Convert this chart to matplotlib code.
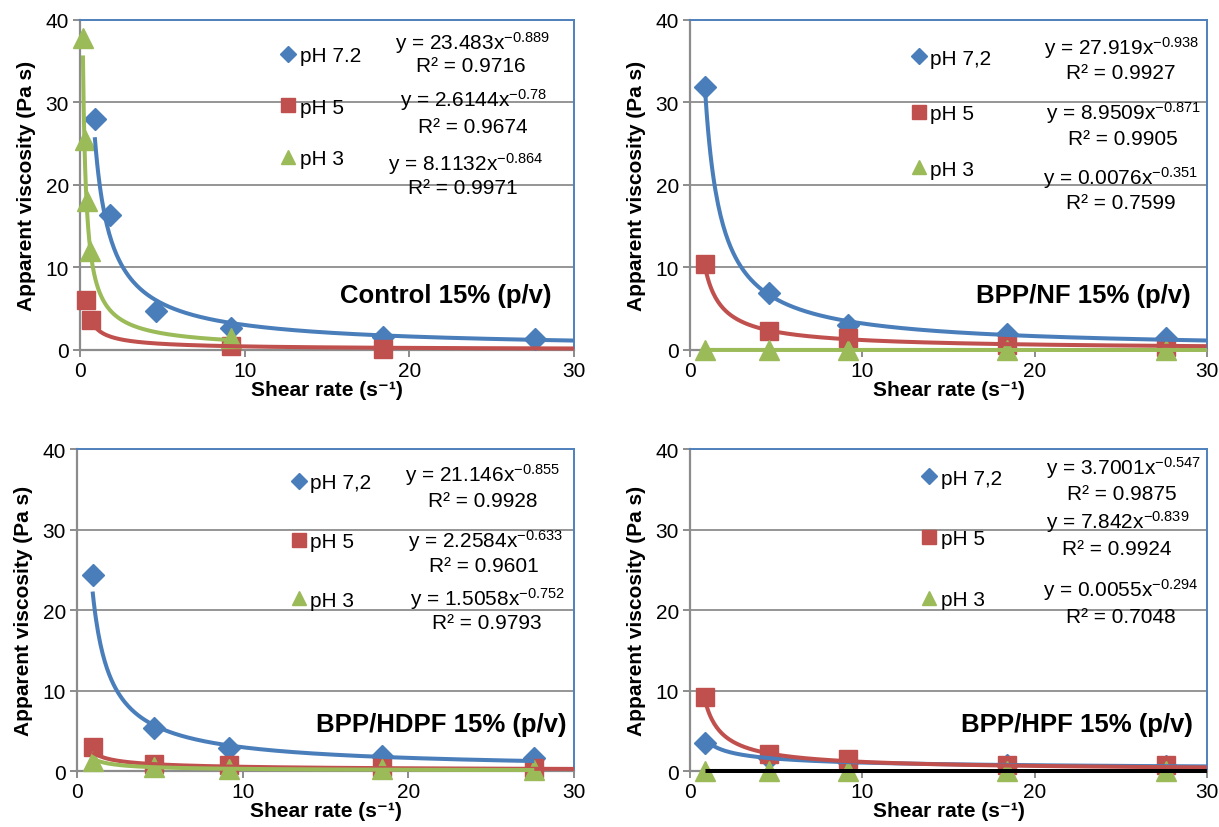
import numpy as np
import matplotlib
matplotlib.use("Agg")
import matplotlib.pyplot as plt

plt.rcParams['font.family'] = ['Liberation Sans', 'DejaVu Sans']
plt.rcParams['mathtext.fontset'] = 'custom'
plt.rcParams['mathtext.rm'] = 'Liberation Sans'
plt.rcParams['mathtext.bf'] = 'Liberation Sans:bold'
plt.rcParams['mathtext.default'] = 'regular'

# ---------------- data ----------------
series_labels_tl = ["pH 7.2", "pH 5", "pH 3"]
series_labels = ["pH 7,2", "pH 5", "pH 3"]
panel_titles = ["Control 15% (p/v)", "BPP/NF 15% (p/v)", "BPP/HDPF 15% (p/v)", "BPP/HPF 15% (p/v)"]

# Control 15%
ctrl_x72 = [0.9, 1.8, 4.6, 9.2, 18.4, 27.6]
ctrl_y72 = [28.0, 16.3, 4.7, 2.7, 1.6, 1.3]
ctrl_x5 = [0.35, 0.64, 9.2, 18.4]
ctrl_y5 = [6.0, 3.6, 0.5, 0.12]
ctrl_x3 = [0.2, 0.3, 0.4, 0.6, 9.2]
ctrl_y3 = [37.8, 25.4, 18.0, 12.0, 1.4]

# BPP/NF 15%
nf_x = [0.9, 4.6, 9.2, 18.4, 27.6]
nf_y72 = [31.85, 6.85, 3.0, 1.9, 1.5]
nf_y5 = [10.4, 2.3, 1.4, 0.6, 0.4]
nf_y3 = [0.008, 0.004, 0.003, 0.003, 0.002]

# BPP/HDPF 15%
hdpf_x = [0.94, 4.64, 9.2, 18.4, 27.6]
hdpf_y72 = [24.4, 5.3, 2.9, 1.85, 1.6]
hdpf_y5 = [3.0, 0.9, 0.7, 0.5, 0.4]
hdpf_y3 = [1.3, 0.45, 0.3, 0.2, 0.15]

# BPP/HPF 15%
hpf_x = [0.9, 4.6, 9.2, 18.4, 27.6]
hpf_y72 = [3.5, 1.6, 1.1, 0.8, 0.65]
hpf_y5 = [9.2, 2.1, 1.5, 0.8, 0.7]
hpf_y3 = [0.0055, 0.003, 0.003, 0.002, 0.002]

# power-law trendlines: (a, b, x_start, x_end), R^2
ctrl_fits = [(23.483, -0.889, 0.9, 30), (2.6144, -0.78, 0.64, 30), (8.1132, -0.864, 0.18, 9.2)]
ctrl_r2 = ["0.9716", "0.9674", "0.9971"]
nf_fits = [(27.919, -0.938, 0.9, 30), (8.9509, -0.871, 0.9, 30), (0.0076, -0.351, 0.9, 30)]
nf_r2 = ["0.9927", "0.9905", "0.7599"]
hdpf_fits = [(21.146, -0.855, 0.94, 27.6), (2.2584, -0.633, 0.94, 30), (1.5058, -0.752, 0.94, 27.6)]
hdpf_r2 = ["0.9928", "0.9601", "0.9793"]
hpf_fits = [(3.7001, -0.547, 0.9, 30), (7.842, -0.839, 0.9, 30), (0.0055, -0.294, 0.9, 30)]
hpf_r2 = ["0.9875", "0.9924", "0.7048"]
coef_txt = {
    0: [("23.483", "-0.889"), ("2.6144", "-0.78"), ("8.1132", "-0.864")],
    1: [("27.919", "-0.938"), ("8.9509", "-0.871"), ("0.0076", "-0.351")],
    2: [("21.146", "-0.855"), ("2.2584", "-0.633"), ("1.5058", "-0.752")],
    3: [("3.7001", "-0.547"), ("7.842", "-0.839"), ("0.0055", "-0.294")],
}

x_ticks = [0, 10, 20, 30]
y_ticks = [0, 10, 20, 30, 40]

# ---------------- style ----------------
BLUE = "#4A7EBB"
RED = "#C0504D"
GREEN = "#9BBB59"
GRID = "#8C8C8C"
FRAME = "#4F81BD"
colors = [BLUE, RED, GREEN]
markers = ["D", "s", "^"]
msizes = [11, 13, 14]

fig = plt.figure(figsize=(12.19, 8.28), dpi=100)
axes_rects = [
    [0.0656, 0.5761, 0.4053, 0.3986],
    [0.5660, 0.5761, 0.4241, 0.3986],
    [0.0632, 0.0676, 0.4077, 0.3889],
    [0.5660, 0.0676, 0.4241, 0.3889],
]

panels = [
    dict(xs=[ctrl_x72, ctrl_x5, ctrl_x3], ys=[ctrl_y72, ctrl_y5, ctrl_y3], fits=ctrl_fits, r2=ctrl_r2,
         labels=series_labels_tl, fitcolors=[BLUE, RED, GREEN],
         leg=(0.405, 0.736), spacing=1.55,
         eq=[(0.794, 0.932, 0.792, 0.862), (0.796, 0.761, 0.795, 0.677), (0.780, 0.565, 0.775, 0.491)],
         title=(0.954, 0.168)),
    dict(xs=[nf_x, nf_x, nf_x], ys=[nf_y72, nf_y5, nf_y3], fits=nf_fits, r2=nf_r2,
         labels=series_labels, fitcolors=[BLUE, RED, GREEN],
         leg=(0.427, 0.716), spacing=1.75,
         eq=[(0.835, 0.917, 0.833, 0.842), (0.838, 0.721, 0.837, 0.642), (0.833, 0.524, 0.833, 0.447)],
         title=(0.968, 0.168)),
    dict(xs=[hdpf_x, hdpf_x, hdpf_x], ys=[hdpf_y72, hdpf_y5, hdpf_y3], fits=hdpf_fits, r2=hdpf_r2,
         labels=series_labels, fitcolors=[BLUE, RED, GREEN],
         leg=(0.429, 0.713), spacing=1.9,
         eq=[(0.816, 0.922, 0.816, 0.840), (0.822, 0.718, 0.819, 0.638), (0.826, 0.538, 0.824, 0.460)],
         title=(0.984, 0.146)),
    dict(xs=[hpf_x, hpf_x, hpf_x], ys=[hpf_y72, hpf_y5, hpf_y3], fits=hpf_fits, r2=hpf_r2,
         labels=series_labels, fitcolors=[BLUE, RED, "black"],
         leg=(0.447, 0.721), spacing=2.0,
         eq=[(0.839, 0.945, 0.836, 0.861), (0.827, 0.776, 0.826, 0.690), (0.833, 0.566, 0.833, 0.481)],
         title=(0.972, 0.146)),
]

FS = 15
for i, (rect, p) in enumerate(zip(axes_rects, panels)):
    ax = fig.add_axes(rect)
    ax.set_xlim(0, 30)
    ax.set_ylim(0, 40)
    ax.set_xticks(x_ticks)
    ax.set_yticks(y_ticks)
    ax.yaxis.grid(True, color=GRID, lw=1.3)
    ax.set_axisbelow(True)
    for s in ["top", "right"]:
        ax.spines[s].set_color(FRAME)
        ax.spines[s].set_linewidth(1.4)
    for s in ["left", "bottom"]:
        ax.spines[s].set_color(GRID)
        ax.spines[s].set_linewidth(1.6)
    ax.tick_params(axis="both", direction="out", length=5, width=1.4, color=GRID,
                   labelsize=FS, pad=3)
    ax.set_xlabel("Shear rate (s⁻¹)", fontsize=FS, fontweight="bold", labelpad=0)
    ax.set_ylabel("Apparent viscosity (Pa s)", fontsize=FS, fontweight="bold", labelpad=7)

    handles = []
    for k in range(3):
        h, = ax.plot(p["xs"][k], p["ys"][k], linestyle="none", marker=markers[k],
                     markersize=msizes[k], color=colors[k], clip_on=False, zorder=3,
                     label=p["labels"][k])
        handles.append(h)
    for k in range(3):
        a, b, x0, x1 = p["fits"][k]
        xx = np.linspace(x0, x1, 400)
        ax.plot(xx, a * xx ** b, color=p["fitcolors"][k], lw=2.9, zorder=4, clip_on=False,
                solid_capstyle="butt")

    leg = ax.legend(handles=handles, loc="center left", bbox_to_anchor=p["leg"],
                    frameon=False, fontsize=FS, handlelength=0.8, handletextpad=0.15,
                    borderpad=0, borderaxespad=0, labelspacing=p["spacing"], markerscale=0.75)

    for k in range(3):
        ex, ey, rx, ry = p["eq"][k]
        c, e = coef_txt[i][k]
        ax.text(ex, ey, "y = %sx$^{%s}$" % (c, e), transform=ax.transAxes, ha="center",
                va="center", fontsize=FS, zorder=6)
        ax.text(rx, ry, "R² = %s" % p["r2"][k], transform=ax.transAxes, ha="center",
                va="center", fontsize=FS, zorder=6)

    tx, ty = p["title"]
    ax.text(tx, ty, panel_titles[i], transform=ax.transAxes, ha="right", va="center",
            fontsize=18.5, fontweight="bold", zorder=6)

fig.savefig("out.png", dpi=100)
